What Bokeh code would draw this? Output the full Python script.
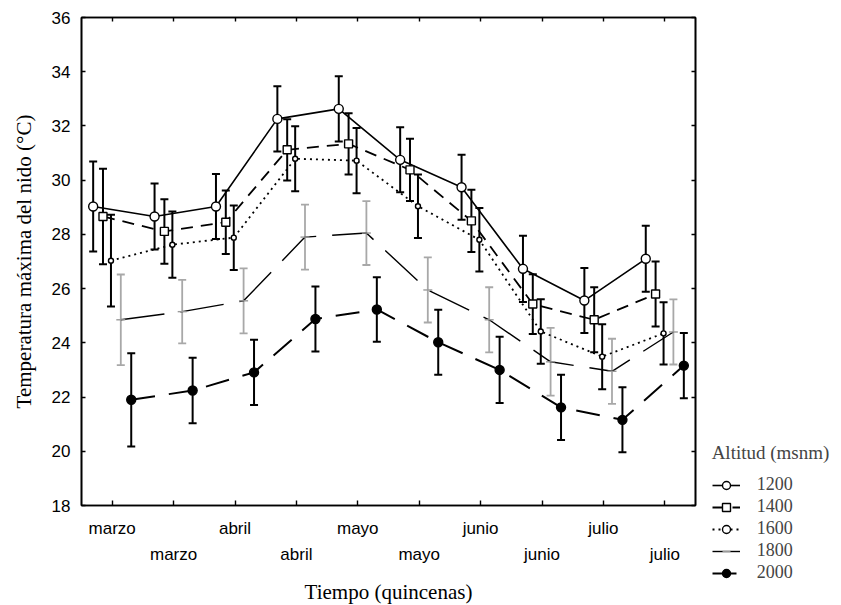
import numpy as np
from bokeh.plotting import figure
from bokeh.models import (Range1d, FixedTicker, LinearAxis, Whisker, TeeHead,
                          ColumnDataSource, Legend, LegendItem)
from bokeh.embed import file_html
from bokeh.resources import INLINE

# Fortnights (quincenas) from March to July
quincenas = ["marzo", "marzo", "abril", "abril", "mayo", "mayo",
             "junio", "junio", "julio", "julio"]

altitudes = ["1200", "1400", "1600", "1800", "2000"]

# Mean maximum nest temperature (°C) and error per fortnight, by altitude
t1200 = [29.03, 28.66, 29.03, 32.26, 32.63, 30.75, 29.74, 26.73, 25.56, 27.10]
e1200 = [1.66, 1.22, 1.20, 1.20, 1.20, 1.20, 1.20, 1.22, 1.20, 1.22]

t1400 = [28.66, 28.11, 28.45, 31.12, 31.34, 30.38, 28.50, 25.43, 24.85, 25.80]
e1400 = [1.76, 1.19, 1.17, 1.13, 1.13, 1.15, 1.15, 1.10, 1.20, 1.20]

t1600 = [27.03, 27.62, 27.88, 30.79, 30.72, 29.04, 27.80, 24.42, 23.49, 24.35]
e1600 = [1.69, 1.22, 1.19, 1.20, 1.20, 1.17, 1.17, 1.19, 1.20, 1.15]

t1800 = [24.85, 25.15, 25.55, 27.90, 28.05, 25.95, 24.85, 23.30, 22.95, 24.40]
e1800 = [1.67, 1.17, 1.20, 1.20, 1.18, 1.20, 1.20, 1.25, 1.20, 1.20]

t2000 = [21.90, 22.24, 22.91, 24.88, 25.23, 24.02, 23.00, 21.62, 21.16, 23.16]
e2000 = [1.72, 1.21, 1.20, 1.20, 1.19, 1.20, 1.22, 1.20, 1.20, 1.20]

y_ticks = list(range(18, 37, 2))

SANS = "Liberation Sans"
SERIF = "Liberation Serif"

p = figure(frame_width=614, frame_height=488, output_backend="svg",
           toolbar_location=None,
           x_range=Range1d(0.5, 10.5), y_range=Range1d(18, 36),
           x_axis_location=None, y_axis_location=None,
           min_border_left=81, min_border_right=0,
           min_border_top=17, min_border_bottom=100)
p.grid.visible = False
p.outline_line_color = "black"
p.outline_line_width = 1.6
p.background_fill_color = "white"
p.border_fill_color = "white"

positions = np.arange(1, len(quincenas) + 1)

# per-series drawing styles: offset within a fortnight, line, marker
styles = [
    dict(off=-0.31, dash="solid", lw=1.6, lc="black", marker="circle", size=9,
         fill="white", mline="black", wc="black"),
    dict(off=-0.15, dash="12 8", lw=1.8, lc="black", marker="square", size=8,
         fill="white", mline="black", wc="black"),
    dict(off=-0.02, dash="2 4", lw=1.8, lc="black", marker="circle", size=5,
         fill="white", mline="black", wc="black"),
    dict(off=0.14, dash="44 16", lw=1.4, lc="black", marker="dash", size=9,
         fill="#9a9a9a", mline="#9a9a9a", wc="#a8a8a8"),
    dict(off=0.31, dash="24 14", lw=2.0, lc="black", marker="circle", size=9,
         fill="black", mline="black", wc="black"),
]

series = [(t1200, e1200), (t1400, e1400), (t1600, e1600), (t1800, e1800), (t2000, e2000)]

items = []
marker_renderers = []
for name, (vals, errs), st in zip(altitudes, series, styles):
    vals = np.array(vals)
    errs = np.array(errs)
    src = ColumnDataSource(dict(x=positions + st["off"], y=vals,
                                upper=vals + errs, lower=vals - errs))
    line_r = p.line("x", "y", source=src, line_color=st["lc"],
                    line_width=st["lw"], line_dash=st["dash"])
    wlw = 2.0 if st["wc"] == "black" else 1.8
    wh = Whisker(source=src, base="x", upper="upper", lower="lower",
                 line_color=st["wc"], line_width=wlw,
                 upper_head=TeeHead(size=8, line_color=st["wc"], line_width=wlw),
                 lower_head=TeeHead(size=8, line_color=st["wc"], line_width=wlw))
    p.add_layout(wh)
    mk_r = p.scatter("x", "y", source=src, marker=st["marker"], size=st["size"],
                     fill_color=st["fill"], line_color=st["mline"], line_width=1.4)
    marker_renderers.append(mk_r)
    items.append(LegendItem(label=name, renderers=[line_r, mk_r]))

# keep markers on top of the error bars
for r in marker_renderers:
    r.level = "overlay"

# left axis
yax = LinearAxis(ticker=FixedTicker(ticks=y_ticks),
                 axis_label="Temperatura máxima del nido (°C)")
yax.major_tick_in = 4
yax.major_tick_out = 0
yax.minor_tick_line_color = None
yax.axis_line_color = "black"
yax.axis_line_width = 1.6
yax.major_tick_line_width = 1.4
yax.major_label_text_font = SANS
yax.major_label_text_font_size = "17px"
yax.major_label_text_color = "black"
yax.major_label_standoff = 11
yax.axis_label_text_font = SERIF
yax.axis_label_text_font_size = "21px"
yax.axis_label_text_font_style = "normal"
yax.axis_label_text_color = "black"
yax.axis_label_standoff = 13
p.add_layout(yax, "left")

odd_pos = [int(i) for i in positions if i % 2 == 1]
even_pos = [int(i) for i in positions if i % 2 == 0]
row1 = {int(i): q for i, q in zip(positions, quincenas) if i % 2 == 1}
row2 = {int(i): q for i, q in zip(positions, quincenas) if i % 2 == 0}

# bottom axis, first row of month labels (unlabelled fortnights as minor ticks)
xax1 = LinearAxis(ticker=FixedTicker(ticks=odd_pos, minor_ticks=even_pos),
                  major_label_overrides=row1)
xax1.major_tick_in = 5
xax1.major_tick_out = 0
xax1.minor_tick_in = 5
xax1.minor_tick_out = 0
xax1.minor_tick_line_color = "black"
xax1.minor_tick_line_width = 1.4
xax1.axis_line_color = "black"
xax1.axis_line_width = 1.6
xax1.major_tick_line_width = 1.4
xax1.major_label_text_font = SANS
xax1.major_label_text_font_size = "17px"
xax1.major_label_text_color = "black"
xax1.major_label_standoff = 13
p.add_layout(xax1, "below")

# bottom axis, second row of month labels and the axis title
xax2 = LinearAxis(ticker=FixedTicker(ticks=even_pos), major_label_overrides=row2,
                  axis_label="Tiempo (quincenas)")
xax2.major_tick_in = 0
xax2.major_tick_out = 0
xax2.minor_tick_line_color = None
xax2.major_tick_line_color = None
xax2.axis_line_color = None
xax2.major_label_text_font = SANS
xax2.major_label_text_font_size = "17px"
xax2.major_label_text_color = "black"
xax2.major_label_standoff = 4
xax2.axis_label_text_font = SERIF
xax2.axis_label_text_font_size = "21px"
xax2.axis_label_text_font_style = "normal"
xax2.axis_label_text_color = "black"
xax2.axis_label_standoff = 13
p.add_layout(xax2, "below")

# top and right axes: inward ticks only, no labels
tax = LinearAxis(ticker=FixedTicker(ticks=[], minor_ticks=[int(i) for i in positions]))
rax = LinearAxis(ticker=FixedTicker(ticks=[], minor_ticks=y_ticks))
for ax in (tax, rax):
    ax.major_tick_line_color = None
    ax.minor_tick_in = 4
    ax.minor_tick_out = 0
    ax.minor_tick_line_color = "black"
    ax.minor_tick_line_width = 1.4
    ax.axis_line_color = "black"
    ax.axis_line_width = 1.6
p.add_layout(tax, "above")
p.add_layout(rax, "right")

legend = Legend(items=items, location=(-201, -78), title="Altitud (msnm)")
legend.title_text_font = SERIF
legend.title_text_font_size = "19px"
legend.title_text_font_style = "normal"
legend.title_standoff = 10
legend.label_text_font = SERIF
legend.label_text_font_size = "18px"
legend.label_standoff = 17
legend.glyph_width = 28
legend.glyph_height = 20
legend.label_height = 20
legend.spacing = 1
legend.padding = 0
legend.margin = 0
legend.border_line_color = None
legend.background_fill_alpha = 0
p.add_layout(legend, "right")

open("out.html", "w").write(file_html(p, INLINE))
